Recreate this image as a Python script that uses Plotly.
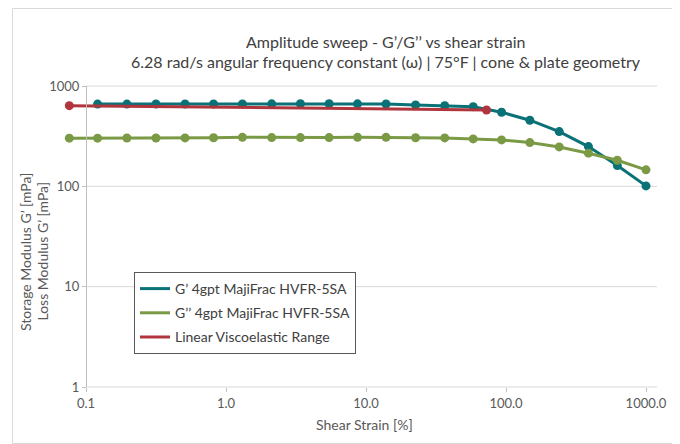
import math
import plotly.graph_objects as go

# ---- data ----
strain_gp = [0.121, 0.196, 0.316, 0.51, 0.815, 1.31, 2.12, 3.4, 5.45, 8.7,
             13.9, 22.6, 36.5, 58.3, 93, 148, 240, 388, 624, 1000]
g_prime = [660, 660, 661, 661, 662, 663, 664, 666, 665, 664,
           662, 648, 637, 622, 547, 456, 351, 249, 161, 101]

strain_gpp = [0.076, 0.121, 0.196, 0.316, 0.51, 0.815, 1.31, 2.12, 3.4, 5.45, 8.7,
              13.9, 22.6, 36.5, 58.3, 93, 148, 240, 388, 624, 1000]
g_dprime = [302, 302, 303, 303, 304, 305, 308, 306, 306, 306, 308,
            308, 305, 304, 297, 290, 273, 247, 214, 182, 146]

strain_lve = [0.076, 72.6]
lve = [637, 577]

x_tickvals = [0.1, 1, 10, 100, 1000]
x_ticktext = ["0.1", "1.0", "10.0", "100.0", "1000.0"]
y_tickvals = [1, 10, 100, 1000]
y_ticktext = ["1", "10", "100", "1000"]

names = ["G’ 4gpt MajiFrac HVFR-5SA", "G’’ 4gpt MajiFrac HVFR-5SA", "Linear Viscoelastic Range"]
colors = ["#0a7277", "#7b9a46", "#b0353d"]

# ---- layout geometry (page pixels; page body has an 8px margin) ----
OFF = 8
W, H = 680 - OFF, 444 - OFF
AX0 = 86            # pixel of x = 0.1 (y-axis line)
PL = 60             # left edge of plotting region (room for points below 0.1)
R, T, B = 657, 86, 387
DEC = 140.0         # pixels per decade on x
pw, ph = R - PL, B - T


def px(x):
    return (x - PL) / pw


def py(y):
    return (B - y) / ph


FONT = "Lato, 'Open Sans', sans-serif"
fig = go.Figure()

series = [(strain_gp, g_prime), (strain_gpp, g_dprime), (strain_lve, lve)]
for (xs, ys), c in zip(series, colors):
    fig.add_trace(go.Scatter(x=xs, y=ys, mode="lines+markers",
                             line=dict(color=c, width=3),
                             marker=dict(color=c, size=9),
                             showlegend=False))

for i, (n, c) in enumerate(zip(names, colors)):
    fig.add_trace(go.Scatter(x=[None], y=[None], mode="lines", name=n,
                             line=dict(color=c, width=3), legendgroup=str(i)))

xmin = -1 - (AX0 - PL) / DEC
xmax = 3 + (R - (AX0 + 4 * DEC)) / DEC

fig.update_layout(
    width=W, height=H,
    margin=dict(l=PL - OFF, r=680 - R, t=T - OFF, b=444 - B, pad=0),
    paper_bgcolor="white", plot_bgcolor="white",
    font=dict(family=FONT, size=13, color="#595959"),
    showlegend=True,
    legend=dict(x=px(134), y=py(272), xanchor="left", yanchor="top",
                bordercolor="#595959", borderwidth=1, bgcolor="white",
                font=dict(size=14, color="#404040"), tracegroupgap=3,
                itemwidth=30),
    xaxis=dict(type="log", range=[xmin, xmax],
               tickvals=x_tickvals, ticktext=x_ticktext,
               showgrid=False, showline=False,
               ticks="outside", ticklen=4, tickcolor="#bfbfbf",
               tickfont=dict(size=13, color="#595959"), zeroline=False),
    yaxis=dict(type="log", range=[0, 3],
               tickvals=y_tickvals, ticktext=y_ticktext,
               anchor="free", position=px(AX0),
               showgrid=False,
               showline=True, linecolor="#bfbfbf", linewidth=1,
               ticks="outside", ticklen=4, tickcolor="#bfbfbf",
               tickfont=dict(size=13, color="#595959"), zeroline=False),
)

# horizontal gridlines from the y-axis line to the right edge
for v in y_tickvals:
    fig.add_shape(type="line", xref="paper", yref="paper",
                  x0=px(AX0), x1=1, y0=math.log10(v) / 3, y1=math.log10(v) / 3,
                  line=dict(color="#d9d9d9", width=1), layer="below")

ann = [
    dict(text="Amplitude sweep - G’/G’’ vs shear strain", x=px(386), y=py(42), size=16,
         color="#404040", angle=0),
    dict(text="6.28 rad/s angular frequency constant (ω) | 75°F | cone & plate geometry",
         x=px(386), y=py(62), size=16, color="#404040", angle=0),
    dict(text="Shear Strain [%]", x=px(364.5), y=py(424), size=14, color="#595959", angle=0),
    dict(text="Storage Modulus G’ [mPa]", x=px(25), y=py(252), size=14, color="#595959", angle=-90),
    dict(text="Loss Modulus G’ [mPa]", x=px(41.5), y=py(252), size=14, color="#595959", angle=-90),
]
for a in ann:
    fig.add_annotation(text=a["text"], x=a["x"], y=a["y"], xref="paper", yref="paper",
                       showarrow=False, xanchor="center", yanchor="middle",
                       textangle=a["angle"],
                       font=dict(size=a["size"], color=a["color"]))

fig.add_shape(type="rect", xref="paper", yref="paper",
              x0=px(12.5), x1=px(672.5), y0=py(443.5), y1=py(8.5),
              line=dict(color="#d9d9d9", width=1), layer="below")

fig.write_html("out.html")
